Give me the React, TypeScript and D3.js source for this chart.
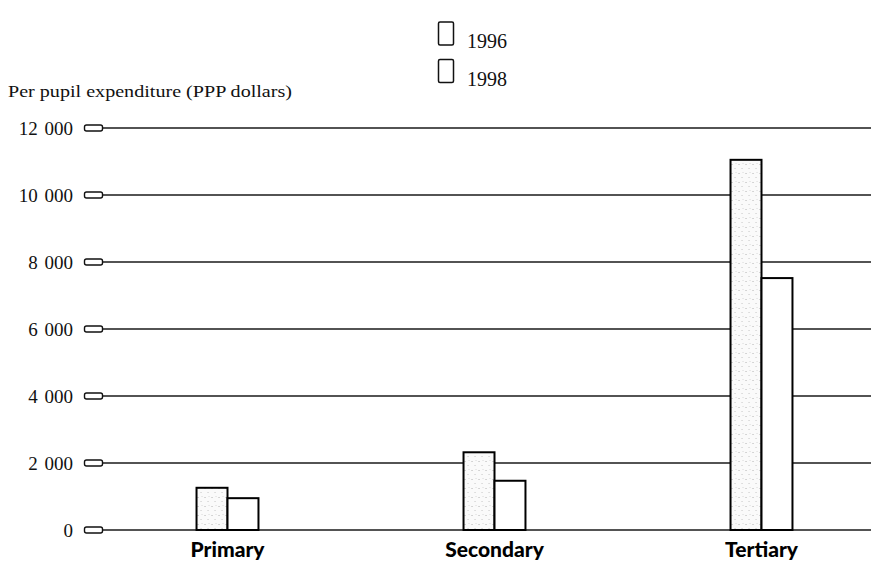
import React from "react";
import * as d3 from "d3";

const categories = ["Primary", "Secondary", "Tertiary"];
const series = ["1996", "1998"];
const values1996 = [1260, 2320, 11050];
const values1998 = [950, 1470, 7520];
const tickValues = [0, 2000, 4000, 6000, 8000, 10000, 12000];
const tickLabels = ["0", "2 000", "4 000", "6 000", "8 000", "10 000", "12 000"];
const yTitle = "Per pupil expenditure (PPP dollars)";

const W = 871;
const H = 565;

export default function App() {
  const y = d3.scaleLinear().domain([0, 12000]).range([530, 128]);
  const x0 = d3
    .scaleBand<string>()
    .domain(categories)
    .range([94, 895])
    .paddingInner(0.768)
    .paddingOuter(0.384);
  const x1 = d3.scaleBand<string>().domain(series).range([0, x0.bandwidth()]);
  const seriesValues = [values1996, values1998];
  const serif = "'Liberation Serif', 'DejaVu Serif', serif";
  const sans = "Lato, 'Open Sans', sans-serif";

  return (
    <svg
      width={W}
      height={H}
      style={{ position: "absolute", left: 0, top: 0, background: "#fff" }}
    >
      <defs>
        <pattern id="stip" width="7" height="9" patternUnits="userSpaceOnUse">
          <rect width="7" height="9" fill="#fafafa" />
          <rect x="1" y="2" width="1" height="1" fill="#b0b0b0" />
          <rect x="4" y="6" width="1" height="1" fill="#c4c4c4" />
          <rect x="5" y="1" width="1" height="1" fill="#d8d8d8" />
        </pattern>
      </defs>

      {/* y title */}
      <text x={8} y={97} fontFamily={serif} fontSize={17.5} fill="#111" textLength={284} lengthAdjust="spacingAndGlyphs">
        {yTitle}
      </text>

      {/* gridlines, tick marks and labels */}
      {tickValues.map((v, i) => (
        <g key={v}>
          <line x1={103} x2={W} y1={y(v)} y2={y(v)} stroke="#1a1a1a" strokeWidth={1.4} />
          <rect x={84.5} y={y(v) - 3} width={18} height={6} rx={2} fill="#fff" stroke="#111" strokeWidth={1.4} />
          <text
            x={73}
            y={y(v) + 7}
            textAnchor="end"
            fontFamily={serif}
            fontSize={19}
            wordSpacing={2}
            fill="#111"
          >
            {tickLabels[i]}
          </text>
        </g>
      ))}

      {/* bars */}
      {categories.map((c, ci) => (
        <g key={c} transform={`translate(${x0(c)},0)`}>
          {series.map((s, si) => {
            const v = seriesValues[si][ci];
            return (
              <rect
                key={s}
                x={x1(s)}
                y={y(v)}
                width={x1.bandwidth()}
                height={y(0) - y(v)}
                fill={si === 0 ? "url(#stip)" : "#fff"}
                stroke="#000"
                strokeWidth={2}
              />
            );
          })}
          <text
            x={x0.bandwidth() / 2}
            y={557}
            textAnchor="middle"
            fontFamily={sans}
            fontWeight={900}
            fontSize={21}
            fill="#000"
          >
            {c}
          </text>
        </g>
      ))}

      {/* legend */}
      {series.map((s, i) => (
        <g key={s} transform={`translate(438, ${22 + i * 37.5})`}>
          <rect x={0.5} y={0} width={15} height={23} rx={1.5} fill="#fff" stroke="#111" strokeWidth={1.5} />
          <text x={29} y={26} fontFamily={serif} fontSize={20} fill="#111">
            {s}
          </text>
        </g>
      ))}
    </svg>
  );
}
